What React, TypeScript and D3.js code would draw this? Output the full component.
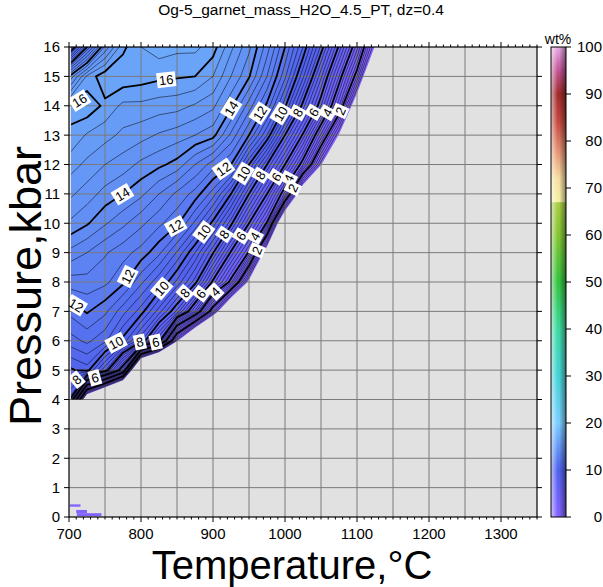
import React from "react";
import * as d3 from "d3";

// ---------------- data ----------------
// grid columns (temperature, °C) and rows (pressure, kbar; top row first)
const gridT = [700, 725, 750, 775, 800, 825, 850, 875, 900, 925, 950, 975, 1000, 1025, 1050, 1075, 1100, 1125, 1150];
const gridP = [16, 15, 14, 13, 12, 11, 10, 9, 8, 7, 6, 5, 4];

const h2oP16 = [9, 12, 14.5, 15.9, 16.4, 16.6, 16.5, 16.5, 16.2, 15.3, 14.5, 13.4, 12.0, 10.4, 8.3, 5.9, 3.4, -0.1, -3];
const h2oP15 = [14.0, 15.7, 16.3, 16.3, 16.2, 16.1, 16.05, 16.0, 15.6, 14.8, 14.05, 12.8, 11.3, 9.3, 6.9, 4.4, 1.6, -2.9, -6];
const h2oP14 = [16.1, 16.3, 15.9, 15.5, 15.5, 15.4, 15.35, 15.15, 14.9, 14.1, 13.0, 11.9, 10.1, 7.8, 5.6, 2.85, -1.2, -5, -8];
const h2oP13 = [15.95, 15.55, 15.35, 15.1, 14.95, 14.75, 14.6, 14.4, 14.15, 13.1, 12.0, 10.4, 8.0, 5.9, 3.1, -0.1, -4, -7, -10];
const h2oP12 = [15.4, 15.1, 14.8, 14.6, 14.3, 14.1, 13.85, 13.2, 12.6, 12.0, 10.0, 8.0, 6.0, 3.6, 0.1, -3.5, -7, -10, -13];
const h2oP11 = [14.9, 14.6, 14.25, 14.0, 13.7, 13.2, 12.7, 12.25, 11.4, 10.0, 8.0, 6.0, 3.45, -1.6, -5, -8, -11, -14, -17];
const h2oP10 = [14.35, 14.05, 13.65, 13.3, 12.9, 12.5, 12.1, 11.1, 9.85, 8.15, 6.0, 3.9, -2.6, -6, -9, -12, -15, -18, -21];
const h2oP9 = [13.5, 13.2, 12.85, 12.55, 12.25, 11.7, 10.75, 9.6, 8.05, 5.9, 3.9, -0.98, -4, -7, -10, -13, -16, -19, -22];
const h2oP8 = [12.6, 12.65, 12.5, 12.1, 11.3, 10.5, 9.5, 8.2, 5.85, 3.75, -0.33, -3.5, -6.5, -9.5, -12.5, -15.5, -18.5, -21.5, -24.5];
const h2oP7 = [11.7, 12.05, 11.7, 10.95, 10.2, 9.0, 7.5, 5.1, 1.3, -3.3, -6, -9, -12, -15, -18, -21, -24, -27, -30];
const h2oP6 = [11.0, 11.3, 10.9, 9.85, 8.5, 6.4, 0.2, -4, -8, -11, -14, -17, -20, -23, -26, -29, -32, -35, -38];
const h2oP5 = [9.9, 10.2, 8.5, 5.3, -5.7, -10, -14, -18, -22, -26, -30, -34, -38, -42, -46, -50, -54, -58, -62];
const h2oP4 = [8.3, -2.2, -6, -10, -14, -18, -22, -26, -30, -34, -38, -42, -46, -50, -54, -58, -62, -66, -70];
const gridRows = [h2oP16, h2oP15, h2oP14, h2oP13, h2oP12, h2oP11, h2oP10, h2oP9, h2oP8, h2oP7, h2oP6, h2oP5, h2oP4];

// small isolated low-value cells near P≈0
const lowPatches = [
  { T0: 701, T1: 716, P0: 0.35, P1: 0.43, v: 0.2 },
  { T0: 710, T1: 725, P0: 0.13, P1: 0.24, v: 0.2 },
  { T0: 711, T1: 745, P0: 0.03, P1: 0.13, v: 0.2 },
];

// annotated contour labels (value, approximate T, P)
const contourLabels = [
  { v: 16, T: 714, P: 14.2 }, { v: 16, T: 835, P: 14.9 },
  { v: 14, T: 926, P: 13.9 }, { v: 14, T: 775, P: 10.96 },
  { v: 12, T: 968, P: 13.7 }, { v: 10, T: 996, P: 13.7 }, { v: 8, T: 1019, P: 13.75 },
  { v: 6, T: 1042, P: 13.75 }, { v: 4, T: 1060, P: 13.75 }, { v: 2, T: 1079, P: 13.8 },
  { v: 12, T: 919, P: 11.7 }, { v: 10, T: 942, P: 11.7 }, { v: 8, T: 968, P: 11.6 },
  { v: 6, T: 993, P: 11.5 }, { v: 4, T: 1014, P: 11.4 }, { v: 2, T: 1021, P: 11.06 },
  { v: 12, T: 851, P: 9.84 }, { v: 10, T: 889, P: 9.67 }, { v: 8, T: 917, P: 9.6 },
  { v: 6, T: 940, P: 9.55 }, { v: 4, T: 962, P: 9.5 }, { v: 2, T: 968, P: 9.0 },
  { v: 12, T: 785, P: 8.14 }, { v: 10, T: 831, P: 7.73 }, { v: 8, T: 864, P: 7.56 },
  { v: 6, T: 886, P: 7.55 }, { v: 4, T: 910, P: 7.5 },
  { v: 12, T: 712, P: 7.3 }, { v: 10, T: 767, P: 5.86 }, { v: 8, T: 801, P: 5.75 },
  { v: 6, T: 822, P: 5.8 }, { v: 8, T: 721, P: 4.4 }, { v: 6, T: 739, P: 4.5 },
];

const xTickValues = [700, 800, 900, 1000, 1100, 1200, 1300];
const yTickValues = [0, 1, 2, 3, 4, 5, 6, 7, 8, 9, 10, 11, 12, 13, 14, 15, 16];
const cbTickValues = [0, 10, 20, 30, 40, 50, 60, 70, 80, 90, 100];

const cmapStops = [0, 10, 20, 30, 40, 50, 60, 66.9, 67, 72, 78, 84, 90, 95, 100];
const cmapColors = ["#8462ff", "#5062ec", "#7acdff", "#44d2d6", "#3ed8a0", "#34c240", "#84c432", "#a8cc44",
  "#f4f2a4", "#f6dca0", "#e29070", "#c44840", "#a02a2a", "#c05494", "#e8a8e8"];

const TITLE = "Og-5_garnet_mass_H2O_4.5_PT, dz=0.4";
const DZ = 0.4;
const FONT = "'Liberation Sans', Arial, Helvetica, sans-serif";

export default function App() {
  const X0 = 69, X1 = 537, Y0 = 47, Y1 = 517;
  const x = d3.scaleLinear().domain([700, 1350]).range([X0, X1]);
  const y = d3.scaleLinear().domain([0, 16]).range([Y1, Y0]);
  const color = d3.scaleLinear<string>().domain(cmapStops).range(cmapColors).interpolate(d3.interpolateRgb).clamp(true);

  const nx = gridT.length, ny = gridP.length;
  const dT = gridT[1] - gridT[0];
  const dP = gridP[0] - gridP[1];
  const values = gridRows.flat();
  const levels = d3.range(0, 17.6 + 1e-6, DZ).map((v) => +v.toFixed(2));
  const contours = d3.contours().size([nx, ny]).thresholds(levels)(values);
  const px = (c: number) => x(gridT[0] + (c - 0.5) * dT);
  const py = (c: number) => y(gridP[0] - (c - 0.5) * dP);
  const pathOf = (mp: any) =>
    mp.coordinates
      .map((poly: any) =>
        poly.map((ring: any) => "M" + ring.map(([a, b]: number[]) => `${px(a).toFixed(2)},${py(b).toFixed(2)}`).join("L") + "Z").join("")
      )
      .join("");

  const isThick = (v: number) => v > 0 && Math.abs(v / 2 - Math.round(v / 2)) < 1e-6;

  // bilinear field for label placement
  const field = (T: number, P: number) => {
    const fi = (T - gridT[0]) / dT, fj = (gridP[0] - P) / dP;
    const i0 = Math.max(0, Math.min(nx - 2, Math.floor(fi)));
    const j0 = Math.max(0, Math.min(ny - 2, Math.floor(fj)));
    const tx = fi - i0, ty = fj - j0;
    const g = (i: number, j: number) => gridRows[j][i];
    return (1 - tx) * (1 - ty) * g(i0, j0) + tx * (1 - ty) * g(i0 + 1, j0) + (1 - tx) * ty * g(i0, j0 + 1) + tx * ty * g(i0 + 1, j0 + 1);
  };
  const fpx = (X: number, Y: number) => field(x.invert(X), y.invert(Y));
  const grad = (X: number, Y: number) => {
    const h = 0.5;
    return [(fpx(X + h, Y) - fpx(X - h, Y)) / (2 * h), (fpx(X, Y + h) - fpx(X, Y - h)) / (2 * h)];
  };
  const labels = contourLabels.map((l) => {
    let X = x(l.T), Y = y(l.P);
    for (let k = 0; k < 30; k++) {
      const f = fpx(X, Y) - l.v;
      if (Math.abs(f) < 1e-4) break;
      const [gx, gy] = grad(X, Y);
      const g2 = gx * gx + gy * gy || 1e-9;
      let sx = (f * gx) / g2, sy = (f * gy) / g2;
      const m = Math.hypot(sx, sy);
      if (m > 3) { sx *= 3 / m; sy *= 3 / m; }
      X -= sx; Y -= sy;
    }
    const [gx, gy] = grad(X, Y);
    let ang = (Math.atan2(gx, -gy) * 180) / Math.PI;
    if (ang > 90) ang -= 180;
    if (ang < -90) ang += 180;
    return { ...l, X, Y, ang };
  });

  const minorX = d3.range(700, 1351, 10);
  const gridX = d3.range(750, 1350, 50);
  const gridY = d3.range(1, 16, 1);

  const cbX0 = 551, cbX1 = 566;
  const cb = d3.scaleLinear().domain([0, 100]).range([Y1, Y0]);

  return (
    <svg width={603} height={587} style={{ position: "absolute", left: 0, top: 0, background: "white" }} fontFamily={FONT}>
      <defs>
        <clipPath id="plotClip">
          <rect x={x(703)} y={Y0} width={X1 - x(703)} height={y(4) - Y0} />
        </clipPath>
        <linearGradient id="cbGrad" x1="0" y1="1" x2="0" y2="0">
          {cmapStops.map((s, i) => (
            <stop key={i} offset={s / 100} stopColor={cmapColors[i]} />
          ))}
        </linearGradient>
        <linearGradient id="cbShade" x1="0" y1="0" x2="1" y2="0">
          <stop offset="0" stopColor="#ffffff" stopOpacity={0.6} />
          <stop offset="0.45" stopColor="#ffffff" stopOpacity={0} />
          <stop offset="0.55" stopColor="#000000" stopOpacity={0} />
          <stop offset="1" stopColor="#000000" stopOpacity={0.45} />
        </linearGradient>
      </defs>

      <text x={301} y={15} textAnchor="middle" fontSize={15.5}>{TITLE}</text>

      {/* plot background */}
      <rect x={X0} y={Y0} width={X1 - X0} height={Y1 - Y0} fill="#e1e1e1" />

      {/* filled bands */}
      <g clipPath="url(#plotClip)">
        {contours.map((c, i) => (
          <path key={i} d={pathOf(c)} fill={color(c.value + DZ / 2)} stroke="none" />
        ))}
      </g>
      {lowPatches.map((p, i) => (
        <rect key={i} x={x(p.T0)} y={y(p.P1)} width={x(p.T1) - x(p.T0)} height={y(p.P0) - y(p.P1)} fill={color(p.v)} />
      ))}

      {/* grid */}
      <g stroke="#7a7a7a" strokeWidth={1}>
        {gridX.map((t) => (
          <line key={"gx" + t} x1={x(t)} x2={x(t)} y1={Y0} y2={Y1} />
        ))}
        {gridY.map((p) => (
          <line key={"gy" + p} x1={X0} x2={X1} y1={y(p)} y2={y(p)} />
        ))}
      </g>

      {/* contour lines */}
      <g clipPath="url(#plotClip)" fill="none" stroke="#000">
        {contours
          .filter((c) => c.value > 0)
          .map((c, i) => (
            <path key={i} d={pathOf(c)} strokeWidth={isThick(c.value) ? 1.8 : 0.5} strokeLinejoin="round" />
          ))}
      </g>

      {/* contour labels */}
      {labels.map((l, i) => {
        const s = String(l.v);
        const w = s.length * 7.4 + 4;
        return (
          <g key={i} transform={`translate(${l.X.toFixed(2)},${l.Y.toFixed(2)}) rotate(${l.ang.toFixed(1)})`}>
            <rect x={-w / 2} y={-7.5} width={w} height={15} fill="#fff" />
            <text x={0} y={0} dy="0.36em" textAnchor="middle" fontSize={13}>{s}</text>
          </g>
        );
      })}

      {/* frame */}
      <rect x={X0} y={Y0} width={X1 - X0} height={Y1 - Y0} fill="none" stroke="#000" strokeWidth={1.2} />

      {/* ticks */}
      <g stroke="#000" strokeWidth={1}>
        {minorX.map((t) => {
          const major = t % 100 === 0;
          const len = major ? 5 : 2.5;
          return (
            <g key={"t" + t}>
              <line x1={x(t)} x2={x(t)} y1={Y1} y2={Y1 + len} />
              <line x1={x(t)} x2={x(t)} y1={Y0} y2={Y0 - len} />
            </g>
          );
        })}
        {yTickValues.map((p) => (
          <g key={"yt" + p}>
            <line x1={X0 - 5} x2={X0} y1={y(p)} y2={y(p)} />
            <line x1={X1} x2={X1 + 5} y1={y(p)} y2={y(p)} />
          </g>
        ))}
      </g>
      {xTickValues.map((t) => (
        <text key={"xl" + t} x={x(t)} y={539} textAnchor="middle" fontSize={15}>{t}</text>
      ))}
      {yTickValues.map((p) => (
        <text key={"yl" + p} x={60} y={y(p)} dy="0.36em" textAnchor="end" fontSize={15}>{p}</text>
      ))}

      {/* axis titles */}
      <text x={292} y={579} textAnchor="middle" fontSize={40}>Temperature,°C</text>
      <text transform={`translate(41,${(Y0 + Y1) / 2 + 4}) rotate(-90)`} textAnchor="middle" fontSize={45}>Pressure,kbar</text>

      {/* colorbar */}
      <rect x={cbX0} y={Y0} width={cbX1 - cbX0} height={Y1 - Y0} fill="url(#cbGrad)" />
      <rect x={cbX0} y={Y0} width={cbX1 - cbX0} height={Y1 - Y0} fill="url(#cbShade)" />
      <rect x={cbX0} y={Y0} width={cbX1 - cbX0} height={Y1 - Y0} fill="none" stroke="#000" strokeWidth={1} />
      {cbTickValues.map((v) => (
        <g key={"cb" + v}>
          <line x1={cbX1} x2={cbX1 + 5} y1={cb(v)} y2={cb(v)} stroke="#000" />
          <text x={602} y={cb(v)} dy="0.36em" textAnchor="end" fontSize={15}>{v}</text>
        </g>
      ))}
      <text x={558} y={44} textAnchor="middle" fontSize={14}>wt%</text>
    </svg>
  );
}
